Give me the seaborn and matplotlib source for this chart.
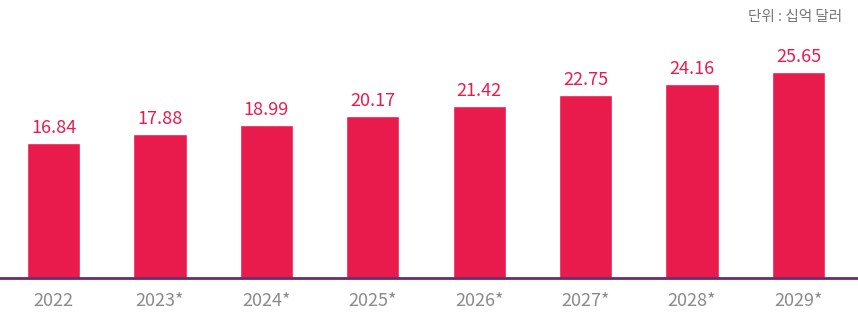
import matplotlib
matplotlib.use("Agg")
import matplotlib.pyplot as plt
import seaborn as sns
import pandas as pd

years = ["2022", "2023*", "2024*", "2025*", "2026*", "2027*", "2028*", "2029*"]
values = [16.84, 17.88, 18.99, 20.17, 21.42, 22.75, 24.16, 25.65]
unit_label = "단위 : 십억 달러"

sns.set_theme(style="white")
plt.rcParams['font.family'] = ['Noto Sans CJK KR', 'DejaVu Sans']

BAR = "#E91B4D"
df = pd.DataFrame({"year": years, "value": values})

fig = plt.figure(figsize=(8.58, 3.23), dpi=100)
ax = fig.add_axes([0, 45/323, 1, 278/323])
sns.barplot(data=df, x="year", y="value", color=BAR, width=0.5, saturation=1, ax=ax)

ax.set_xlim(-0.503, 7.56)
ax.set_ylim(0, 34.6)
for s in ["top", "right", "left"]:
    ax.spines[s].set_visible(False)
ax.spines["bottom"].set_color("#6A2A6E")
ax.spines["bottom"].set_linewidth(2)
ax.set_yticks([])
ax.set_xlabel("")
ax.set_ylabel("")
ax.tick_params(axis="x", length=0, pad=10, labelsize=13, labelcolor="#8A8A8A")

for i, v in enumerate(values):
    ax.text(i, v + 0.75, f"{v:.2f}", ha="center", va="bottom", color=BAR, fontsize=13)

fig.text(842/858, 1 - 17/323, unit_label, ha="right", va="center", color="#777777", fontsize=10.5)

fig.savefig("out.png", dpi=100)
